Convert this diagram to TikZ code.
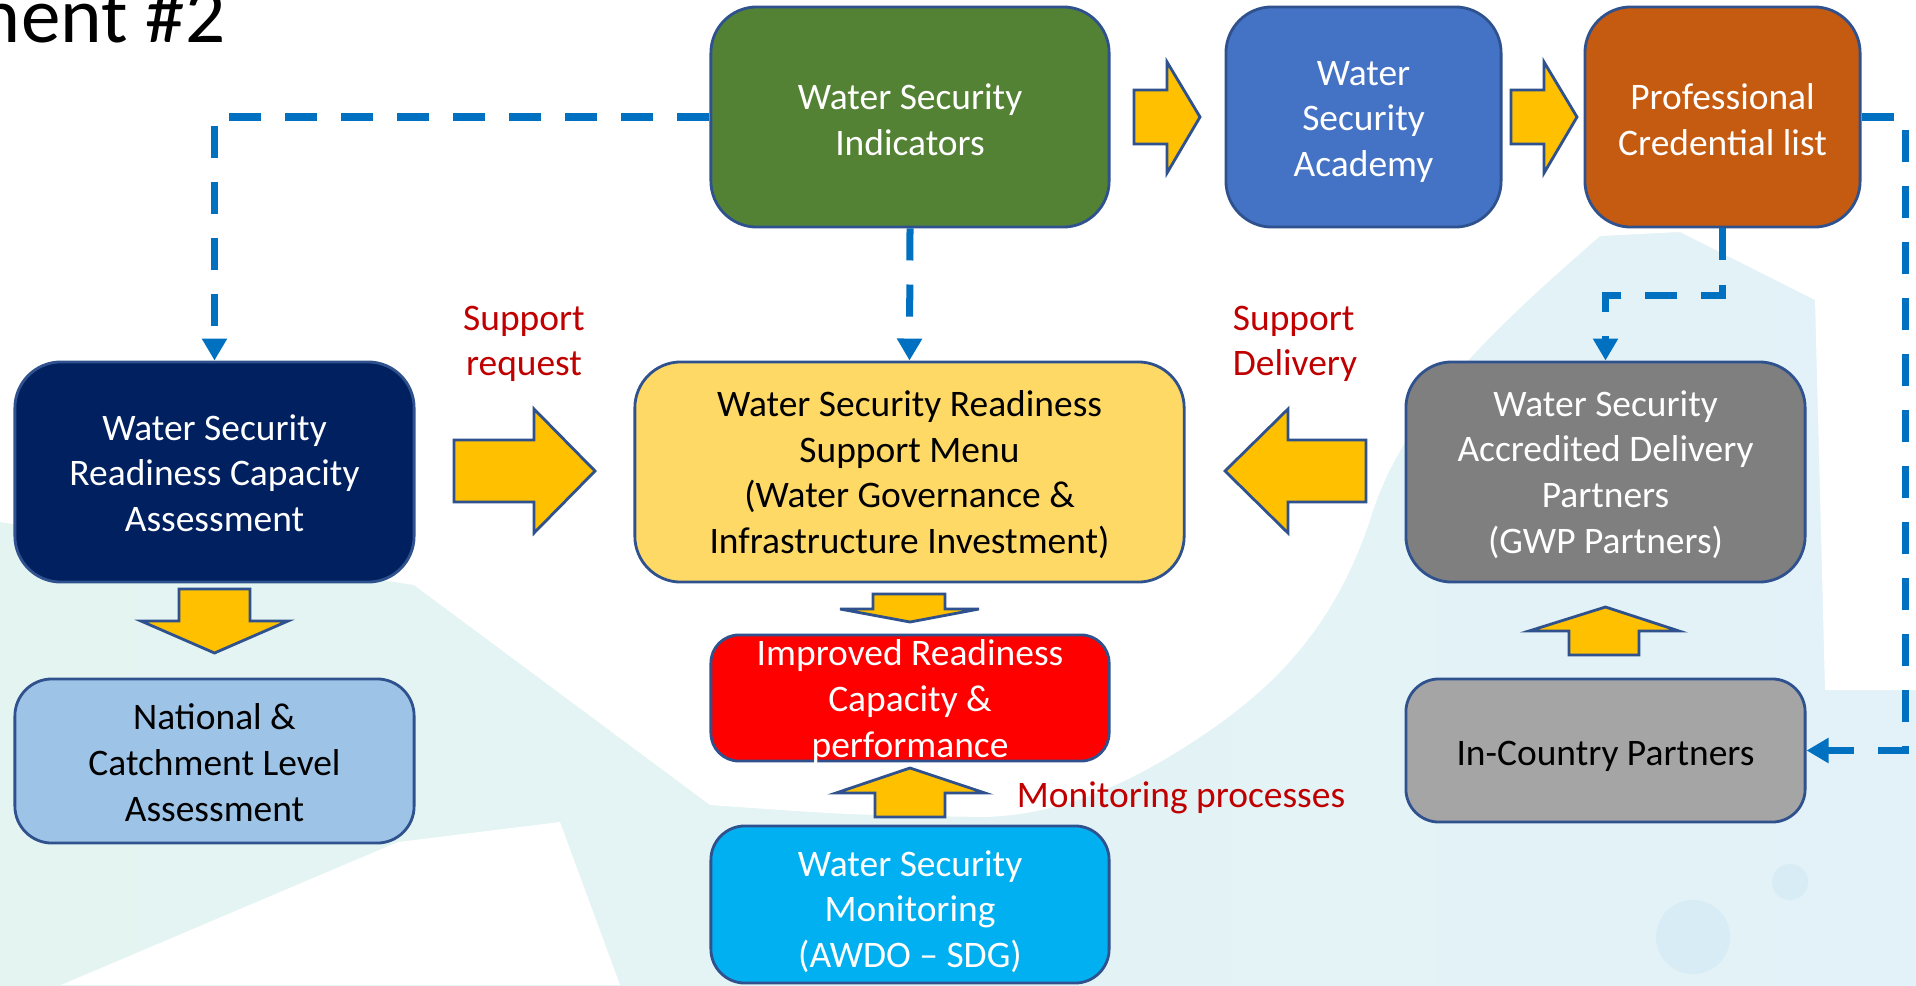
\documentclass[tikz,border=0pt]{standalone}
\usepackage{fontspec}
\setmainfont{Carlito}
\usetikzlibrary{arrows.meta}
\definecolor{bordc}{HTML}{2F528F}
\definecolor{cgreen}{HTML}{548235}
\definecolor{cacad}{HTML}{4472C4}
\definecolor{corange}{HTML}{C55A11}
\definecolor{cnavy}{HTML}{002060}
\definecolor{cyellow}{HTML}{FFD966}
\definecolor{cdgrey}{HTML}{7F7F7F}
\definecolor{cltblue}{HTML}{9DC3E6}
\definecolor{cred}{HTML}{FF0000}
\definecolor{clgrey}{HTML}{A5A5A5}
\definecolor{ccyan}{HTML}{00B0F0}
\definecolor{carrow}{HTML}{FFC000}
\definecolor{cdash}{HTML}{0070C0}
\definecolor{clabel}{HTML}{C00000}
\definecolor{bgteal}{HTML}{E4F4F1}
\definecolor{bgblue}{HTML}{E3F2F8}
\definecolor{bgdot}{HTML}{D8ECF5}
\begin{document}
\begin{tikzpicture}[x=0.01cm, y=-0.01cm,
  box/.style={draw=bordc, line width=0.8pt, inner sep=0pt},
  bigbox/.style={box, rounded corners=0.46cm, minimum width=3.99cm, minimum height=2.2cm},
  txt/.style={align=center, inner sep=0pt, font=\fontsize{10.65}{13}\selectfont},
  wtxt/.style={txt, text=white},
  btxt/.style={txt, text=black},
  barrow/.style={draw=bordc, line width=0.8pt, fill=carrow, line join=miter},
  dconn/.style={draw=cdash, line width=0.07cm, dash pattern=on 0.32cm off 0.24cm,
    -{Triangle[width=0.24cm,length=0.22cm]}},
  lbl/.style={txt, text=clabel}]
\useasboundingbox (0,0) rectangle (1916,985);
\clip (0,0) rectangle (1916,985);
% background watermark
\shade[left color=bgteal, right color=bgblue] (0,0) rectangle (1916,985);
\fill[white] (0,0) -- (1916,0) -- (1916,690) -- (1825,690) -- (1815,300) -- (1680,232) -- (1600,236)
  .. controls (1480,340) and (1400,420) .. (1370,520)
  .. controls (1330,640) and (1260,700) .. (1180,750)
  .. controls (1100,800) and (1040,815) .. (985,817)
  .. controls (850,815) .. (710,805) -- (414,585) -- (0,522) -- cycle;
\fill[white] (61,985) -- (398,842) -- (560,822) -- (620,985) -- cycle;
\fill[bgdot] (1693,937) circle (0.37cm);
\fill[bgdot] (1790,882) circle (0.18cm);
% title fragment
\node[anchor=base east, inner sep=0pt, font=\fontsize{22.5}{27}\selectfont] (ttl) at (226,43) {ment \#2};
% boxes
\node[bigbox, fill=cgreen, minimum width=3.98cm] (wsi) at (910,117) {};
\node[bigbox, fill=cacad, minimum width=2.75cm] (wsa) at (1363.5,117) {};
\node[bigbox, fill=corange, minimum width=2.75cm] (pcl) at (1722.5,117) {};
\node[bigbox, fill=cnavy] (rca) at (214.5,472) {};
\node[bigbox, fill=cyellow, minimum width=5.49cm] (menu) at (909.5,472) {};
\node[bigbox, fill=cdgrey] (adp) at (1605.5,472) {};
\node[box, rounded corners=0.37cm, fill=cltblue, minimum width=3.99cm, minimum height=1.64cm] (ncl) at (214.5,761) {};
\node[box, rounded corners=0.28cm, fill=cred, minimum width=3.98cm, minimum height=1.26cm] (irc) at (910,698) {};
\node[box, rounded corners=0.33cm, fill=clgrey, minimum width=3.99cm, minimum height=1.43cm] (icp) at (1605.5,750.5) {};
\node[box, rounded corners=0.34cm, fill=ccyan, minimum width=3.98cm, minimum height=1.57cm] (wsm) at (910,904.5) {};
% box texts
\node[wtxt] (wsi-t) at (910,119.5) {Water Security\\Indicators};
\node[wtxt] (wsa-t) at (1363.5,122) {Water\\Security\\Academy};
\node[wtxt] (pcl-t) at (1722.5,119.5) {Professional\\Credential list};
\node[wtxt] (rca-t) at (214.5,473) {Water Security\\Readiness Capacity\\Assessment};
\node[btxt] (menu-t) at (909.5,474.5) {Water Security Readiness\\Support Menu\\(Water Governance \&\\Infrastructure Investment)};
\node[wtxt] (adp-t) at (1605.5,474.5) {Water Security\\Accredited Delivery\\Partners\\(GWP Partners)};
\node[btxt] (ncl-t) at (214.5,762.5) {National \&\\Catchment Level\\Assessment};
\node[wtxt] (irc-t) at (910,701.5) {Improved Readiness\\Capacity \&\\performance};
\node[btxt] (icp-t) at (1605.5,756.5) {In-Country Partners};
\node[wtxt] (wsm-t) at (910,911.5) {Water Security\\Monitoring\\(AWDO – SDG)};
% block arrows
\draw[barrow] (1134,90) -- (1167,90) -- (1167,62) -- (1200,117) -- (1167,173) -- (1167,144) -- (1134,144) -- cycle;
\draw[barrow] (1511,90) -- (1544,90) -- (1544,62) -- (1577,117) -- (1544,173) -- (1544,144) -- (1511,144) -- cycle;
\draw[barrow] (454,440) -- (534,440) -- (534,409) -- (595,471) -- (534,533) -- (534,502) -- (454,502) -- cycle;
\draw[barrow] (1366,440) -- (1288,440) -- (1288,409) -- (1225,471) -- (1288,533) -- (1288,502) -- (1366,502) -- cycle;
\draw[barrow] (179,589) -- (250,589) -- (250,621) -- (288,621) -- (214.5,653) -- (141,621) -- (179,621) -- cycle;
\draw[barrow] (873,594) -- (945,594) -- (945,609) -- (979,609) -- (910,622) -- (840,609) -- (873,609) -- cycle;
\draw[barrow] (875,817) -- (945,817) -- (945,793) -- (985,793) -- (910,768) -- (836,793) -- (875,793) -- cycle;
\draw[barrow] (1569,655) -- (1639,655) -- (1639,631) -- (1679,631) -- (1605.5,607) -- (1529,631) -- (1569,631) -- cycle;
% dashed connectors
\draw[dconn] (wsi.west) -| (rca.north);
\draw[dconn] (wsi.south) -- (menu.north);
\draw[dconn] (pcl.south) -- ++(0,67) -| (adp.north);
\coordinate (rc) at (1905,117);
\draw[dconn] (pcl.east) -- (rc) |- (icp.east);
% labels
\node[lbl] (sreq) at (524,344) {Support\\request};
\node[lbl, align=left] (sdel) at (1295,344) {Support\\Delivery};
\node[lbl] (monp) at (1181,798) {Monitoring processes};
\end{tikzpicture}
\end{document}
